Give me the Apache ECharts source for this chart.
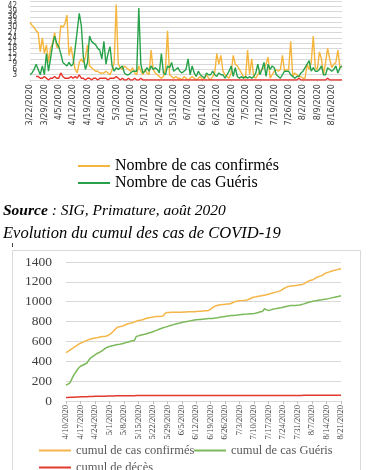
<!DOCTYPE html>
<html><head><meta charset="utf-8">
<script src="https://cdn.jsdelivr.net/npm/echarts@6/dist/echarts.min.js"></script>
<style>html,body{margin:0;padding:0;background:#fff}#c{width:381px;height:470px}</style>
</head><body><div id="c"></div>
<script>
// ---- categories ----
const dailyStart = [2020, 3, 22];
const dailyCount = 153;
const cumulStart = [2020, 4, 10];
const cumulCount = 134;
function makeDates(start, n) {
  const out = [];
  const d = new Date(Date.UTC(start[0], start[1] - 1, start[2]));
  for (let i = 0; i < n; i++) {
    out.push((d.getUTCMonth() + 1) + '/' + d.getUTCDate() + '/' + d.getUTCFullYear());
    d.setUTCDate(d.getUTCDate() + 1);
  }
  return out;
}
const dailyDates = makeDates(dailyStart, dailyCount);
const cumulDates = makeDates(cumulStart, cumulCount);

// ---- daily series (top chart) ----
const dailyConfirmed = [
  33,31,30,28,27,16,24,15,20,10,
  18,21,27,19,18,31,30,32,37,14,
  19,12,6,4,10,12,10,13,20,8,
  7,6,5,5,4,4,4,5,4,3,
  6,10,43,9,7,6,8,7,6,5,
  7,4,3,8,5,3,6,4,3,17,
  6,4,3,2,1,2,6,28,3,2,
  1,2,1,1,0,2,1,0,1,2,
  1,0,1,2,0,1,3,1,0,2,
  4,15,9,14,5,3,2,1,4,14,
  9,8,6,4,2,1,17,3,12,2,
  1,3,5,6,7,9,13,1,3,5,
  6,5,6,14,5,6,6,22,2,4,
  3,2,2,1,1,9,6,10,25,7,
  6,16,12,3,10,18,12,7,9,10,
  17,7,8
];
const dailyRecovered = [
  3,4,6,9,6,3,8,3,15,5,
  12,20,25,21,19,15,10,9,8,10,
  8,9,18,28,38,31,13,6,10,25,
  22,21,20,18,17,12,22,9,15,19,
  8,5,7,6,7,8,4,3,3,4,
  5,5,5,41,9,4,5,7,5,8,
  6,7,6,4,15,4,3,8,7,10,
  5,6,7,5,4,5,6,12,3,8,
  4,2,5,3,2,1,4,3,3,5,
  3,2,4,3,3,1,3,5,8,2,
  7,2,1,2,1,2,1,2,1,2,
  4,9,3,6,10,2,9,6,8,7,
  3,2,1,3,5,5,5,3,2,1,
  2,2,4,5,7,9,11,5,7,5,
  5,6,8,3,3,7,6,5,6,8,
  4,7,8
];
const dailyDeaths = [
  null,null,null,2,2,1,1,2,1,0,
  1,1,2,1,1,4,2,1,1,1,
  2,1,2,1,3,1,1,0,1,1,
  0,1,1,0,1,1,1,1,0,1,
  1,1,2,1,0,1,0,0,1,0,
  0,1,0,0,1,0,0,0,0,0,
  0,0,0,0,0,0,0,0,0,0,
  0,0,0,0,0,0,0,0,0,0,
  0,0,0,0,0,0,0,0,0,0,
  0,0,0,0,0,0,0,0,0,0,
  0,0,0,0,0,0,0,0,0,0,
  0,0,0,0,0,0,0,0,0,0,
  0,0,0,0,0,0,0,0,0,0,
  0,1,0,0,0,0,0,0,0,0,
  0,0,0,0,0,1,0,0,0,0,
  0,0,0
];

// ---- cumulative series (bottom chart) ----
const cumulConfirmed = [
  488,500,514,528,542,555,570,582,591,600,
  609,618,625,630,635,638,642,646,649,652,
  657,668,685,705,728,744,748,752,760,770,
  778,782,788,796,803,810,814,818,826,833,
  838,841,845,850,851,852,853,855,885,892,
  892,893,893,894,894,895,895,896,897,898,
  898,899,900,902,903,905,906,908,910,912,
  925,940,955,962,967,970,972,974,976,977,
  985,995,1003,1007,1009,1011,1013,1014,1020,1030,
  1040,1047,1050,1054,1058,1062,1066,1070,1076,1082,
  1088,1094,1099,1104,1115,1128,1140,1150,1155,1158,
  1161,1164,1167,1170,1172,1180,1192,1205,1213,1218,
  1228,1242,1252,1258,1266,1280,1292,1298,1305,1312,
  1318,1322,1328,1333
];
const cumulRecovered = [
  161,170,185,230,270,300,330,350,360,370,
  380,410,435,450,465,478,488,500,515,530,
  542,548,554,560,565,570,572,576,582,588,
  594,600,606,608,650,656,662,668,672,678,
  684,690,698,706,714,722,730,737,744,750,
  757,763,769,775,780,785,791,795,799,803,
  807,811,815,818,820,822,824,826,828,830,
  831,832,835,838,842,845,849,852,855,858,
  860,862,864,866,869,871,873,875,877,878,
  879,882,886,892,898,902,929,918,912,918,
  924,928,932,936,940,945,950,955,959,961,
  962,963,965,966,972,978,985,992,998,1003,
  1007,1010,1014,1017,1020,1024,1027,1031,1036,1041,
  1046,1051,1055,1060
];
const cumulDeaths = [
  35,36,37,38,39,40,41,42,43,44,
  44,45,46,46,47,47,48,48,49,49,
  50,50,51,51,52,52,52,53,53,53,
  54,54,54,54,55,55,55,55,55,55,
  55,55,55,55,55,55,55,55,55,55,
  55,55,55,55,55,55,55,55,55,55,
  55,55,55,55,55,55,55,55,55,55,
  55,55,55,55,55,56,56,56,56,56,
  56,56,56,56,56,56,56,56,56,56,
  56,56,56,56,56,56,56,56,56,56,
  56,56,56,56,56,56,56,56,56,56,
  56,56,56,56,56,57,57,57,57,57,
  57,57,57,57,57,57,57,57,57,57,
  57,57,57,57
];

// ---- names / ticks ----
const topNames = ['Nombre de cas confirmés', 'Nombre de cas Guéris', 'Nombre de décès'];
const bottomNames = ['cumul de cas confirmés', 'cumul de cas Guéris', 'cumul de décès'];
const topTicks = { min: 0, max: 45, interval: 3 };
const bottomTicks = { min: 0, max: 1400, interval: 200 };
const sourceText = 'Source';
const sourceRest = ' : SIG, Primature, août 2020';
const cumulTitle = 'Evolution du cumul des cas de COVID-19';

const C = { orange: '#F6B53C', green: '#27A24A', red: '#E8302A', green2: '#7CB95A', orange2: '#F5B548', red2: '#E23A2E' };
const narrow = "'Liberation Sans Narrow', 'DejaVu Sans Condensed', sans-serif";
const serif = "'Liberation Serif', 'DejaVu Serif', serif";

const chart = echarts.init(document.getElementById('c'), null, { renderer: 'canvas' });
chart.setOption({
  animation: false,
  backgroundColor: '#fff',
  title: [
    { text: '{b|' + sourceText + '}{i|' + sourceRest + '}', left: 3, top: 203, padding: 0,
      textStyle: { fontWeight: 'normal', rich: {
        b: { fontFamily: serif, fontStyle: 'italic', fontWeight: 'bold', fontSize: 15.5, color: '#000' },
        i: { fontFamily: serif, fontStyle: 'italic', fontWeight: 'normal', fontSize: 15.5, color: '#000' } } } },
    { text: cumulTitle, left: 3, top: 225, padding: 0,
      textStyle: { fontFamily: serif, fontStyle: 'italic', fontWeight: 'normal', fontSize: 16.5, color: '#000' } }
  ],
  graphic: [
    { type: 'rect', z: -1, shape: { x: 12.5, y: 250.5, width: 348, height: 240 }, style: { fill: 'none', stroke: '#d9d9d9', lineWidth: 1 } },
    { type: 'line', shape: { x1: 12.5, y1: 243, x2: 12.5, y2: 247 }, style: { stroke: '#444', lineWidth: 1 } }
  ],
  legend: [
    { data: topNames.slice(0, 2), orient: 'vertical', left: 78, top: 158, padding: 0, itemWidth: 32, itemHeight: 2, itemGap: 1, icon: 'rect',
      textStyle: { fontFamily: serif, fontSize: 16, color: '#000', lineHeight: 14 } },
    { data: [bottomNames[0]], left: 39, top: 444, padding: 0, itemWidth: 32, itemHeight: 2, icon: 'rect',
      textStyle: { fontFamily: serif, fontSize: 12.5, color: '#595959' } },
    { data: [bottomNames[1]], left: 194, top: 444, padding: 0, itemWidth: 32, itemHeight: 2, icon: 'rect',
      textStyle: { fontFamily: serif, fontSize: 12.5, color: '#595959' } },
    { data: [bottomNames[2]], left: 39, top: 461, padding: 0, itemWidth: 32, itemHeight: 2, icon: 'rect',
      textStyle: { fontFamily: serif, fontSize: 12.5, color: '#595959' } }
  ],
  grid: [
    { left: 30, right: 39, top: 1, bottom: 390 },
    { left: 66, right: 40, top: 262, bottom: 69 }
  ],
  xAxis: [
    { type: 'category', gridIndex: 0, data: dailyDates, boundaryGap: false,
      axisLine: { lineStyle: { color: '#d9d9d9' } },
      axisTick: { show: true, interval: 6, length: 2, lineStyle: { color: '#d9d9d9' } },
      axisLabel: { interval: 6, rotate: 90, margin: 4, fontSize: 9, fontFamily: narrow, color: '#404040' } },
    { type: 'category', gridIndex: 1, data: cumulDates, boundaryGap: false,
      axisLine: { lineStyle: { color: '#d9d9d9' } },
      axisTick: { show: true, interval: 6, length: 3, lineStyle: { color: '#bfbfbf' } },
      axisLabel: { interval: 6, rotate: 90, margin: 4, fontSize: 8.5, fontFamily: serif, color: '#404040' } }
  ],
  yAxis: [
    { type: 'value', gridIndex: 0, min: topTicks.min, max: topTicks.max, interval: topTicks.interval,
      axisLine: { show: false }, axisTick: { show: false },
      splitLine: { lineStyle: { color: '#d9d9d9' } },
      axisLabel: { fontSize: 8, fontFamily: narrow, color: '#404040', margin: 13, formatter: v => String(v) } },
    { type: 'value', gridIndex: 1, min: bottomTicks.min, max: bottomTicks.max, interval: bottomTicks.interval,
      axisLine: { show: false }, axisTick: { show: false },
      splitLine: { lineStyle: { color: '#d9d9d9' } },
      axisLabel: { fontSize: 13.5, fontFamily: serif, color: '#404040', margin: 14, formatter: v => String(v) } }
  ],
  series: [
    { name: topNames[0], type: 'line', xAxisIndex: 0, yAxisIndex: 0, data: dailyConfirmed, symbol: 'none', color: C.orange, lineStyle: { width: 1.4 } },
    { name: topNames[1], type: 'line', xAxisIndex: 0, yAxisIndex: 0, data: dailyRecovered, symbol: 'none', color: C.green, lineStyle: { width: 1.4 } },
    { name: topNames[2], type: 'line', xAxisIndex: 0, yAxisIndex: 0, data: dailyDeaths, symbol: 'none', color: C.red, lineStyle: { width: 1.4 } },
    { name: bottomNames[0], type: 'line', xAxisIndex: 1, yAxisIndex: 1, data: cumulConfirmed, symbol: 'none', color: C.orange2, lineStyle: { width: 1.5 } },
    { name: bottomNames[1], type: 'line', xAxisIndex: 1, yAxisIndex: 1, data: cumulRecovered, symbol: 'none', color: C.green2, lineStyle: { width: 1.5 } },
    { name: bottomNames[2], type: 'line', xAxisIndex: 1, yAxisIndex: 1, data: cumulDeaths, symbol: 'none', color: C.red2, lineStyle: { width: 1.5 } }
  ]
});
</script>
</body></html>
